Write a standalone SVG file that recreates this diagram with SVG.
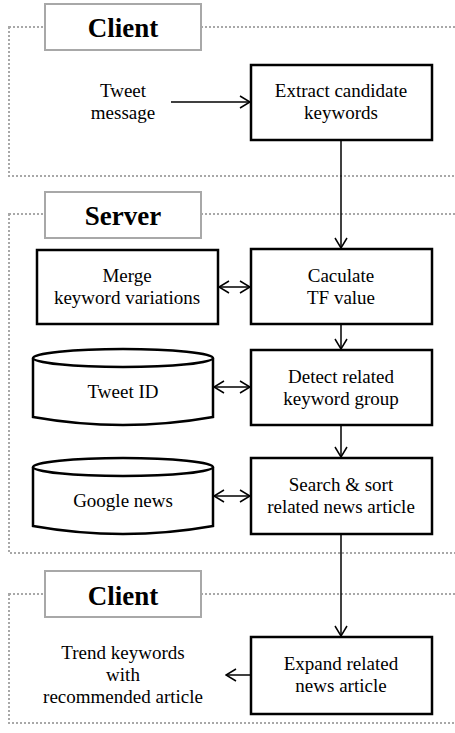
<svg xmlns="http://www.w3.org/2000/svg" width="455" height="733" viewBox="0 0 455 733">
<style>
.panel{fill:none;stroke:#a8a8a8;stroke-width:2;stroke-dasharray:2 2}
.lab{fill:#fff;stroke:#a8a8a8;stroke-width:2}
.lt{font-family:'Liberation Serif','Times New Roman','DejaVu Serif',serif;font-weight:bold;font-size:27px;text-anchor:middle;fill:#000}
.box{fill:#fff;stroke:#000;stroke-width:2.5}
.t{font-family:'Liberation Serif','Times New Roman','DejaVu Serif',serif;font-size:19px;text-anchor:middle;fill:#000}
.c{fill:none;stroke:#000;stroke-width:1.5}
</style>
<defs>
<marker id="ah" markerWidth="12" markerHeight="14" refX="11" refY="7" orient="auto-start-reverse" markerUnits="userSpaceOnUse">
<path d="M1,1 L11,7 L1,13" fill="none" stroke="#000" stroke-width="1.5"/>
</marker>
</defs>
<g id="panel-client1">
<rect class="panel" x="9" y="27" width="460" height="149"/>
<rect class="lab" x="45" y="4" width="156" height="46"/>
<text class="lt" x="123" y="37">Client</text>
</g>
<g id="panel-server">
<rect class="panel" x="9" y="214" width="460" height="339"/>
<rect class="lab" x="45" y="192" width="156" height="46"/>
<text class="lt" x="123" y="225">Server</text>
</g>
<g id="panel-client2">
<rect class="panel" x="9" y="594" width="460" height="129"/>
<rect class="lab" x="45" y="571" width="156" height="46"/>
<text class="lt" x="123" y="605">Client</text>
</g>
<g id="tweet-message">
<text class="t" x="123" y="97">Tweet</text>
<text class="t" x="123" y="119">message</text>
</g>
<g id="extract">
<rect class="box" x="251" y="65" width="181" height="75"/>
<text class="t" x="341" y="97">Extract candidate</text>
<text class="t" x="341" y="119">keywords</text>
</g>
<g id="merge">
<rect class="box" x="37" y="250" width="181" height="74"/>
<text class="t" x="127" y="282">Merge</text>
<text class="t" x="127" y="304">keyword variations</text>
</g>
<g id="caculate">
<rect class="box" x="251" y="249" width="181" height="75"/>
<text class="t" x="341" y="282">Caculate</text>
<text class="t" x="341" y="304">TF value</text>
</g>
<g id="tweet-id">
<path class="box" d="M33,358 L33,417 Q123,433 213,417 L213,358"/>
<ellipse class="box" cx="123" cy="358" rx="90" ry="9"/>
<text class="t" x="123" y="398">Tweet ID</text>
</g>
<g id="detect">
<rect class="box" x="251" y="350" width="181" height="75"/>
<text class="t" x="341" y="383">Detect related</text>
<text class="t" x="341" y="405">keyword group</text>
</g>
<g id="google-news">
<path class="box" d="M33,467 L33,526 Q123,542 213,526 L213,467"/>
<ellipse class="box" cx="123" cy="467" rx="90" ry="9"/>
<text class="t" x="123" y="507">Google news</text>
</g>
<g id="search">
<rect class="box" x="251" y="458" width="181" height="76"/>
<text class="t" x="341" y="491">Search &amp; sort</text>
<text class="t" x="341" y="513">related news article</text>
</g>
<g id="expand">
<rect class="box" x="251" y="637" width="181" height="77"/>
<text class="t" x="341" y="670">Expand related</text>
<text class="t" x="341" y="692">news article</text>
</g>
<g id="trend">
<text class="t" x="123" y="659">Trend keywords</text>
<text class="t" x="123" y="681">with</text>
<text class="t" x="123" y="703">recommended article</text>
</g>
<g id="connectors">
<line class="c" x1="171" y1="102" x2="250" y2="102" marker-end="url(#ah)"/>
<line class="c" x1="341" y1="141" x2="341" y2="248" marker-end="url(#ah)"/>
<line class="c" x1="219" y1="287" x2="250" y2="287" marker-start="url(#ah)" marker-end="url(#ah)"/>
<line class="c" x1="341" y1="325" x2="341" y2="349" marker-end="url(#ah)"/>
<line class="c" x1="214" y1="387" x2="250" y2="387" marker-start="url(#ah)" marker-end="url(#ah)"/>
<line class="c" x1="341" y1="426" x2="341" y2="457" marker-end="url(#ah)"/>
<line class="c" x1="214" y1="496" x2="250" y2="496" marker-start="url(#ah)" marker-end="url(#ah)"/>
<line class="c" x1="341" y1="535" x2="341" y2="636" marker-end="url(#ah)"/>
<line class="c" x1="250" y1="675" x2="226" y2="675" marker-end="url(#ah)"/>
</g>
</svg>
